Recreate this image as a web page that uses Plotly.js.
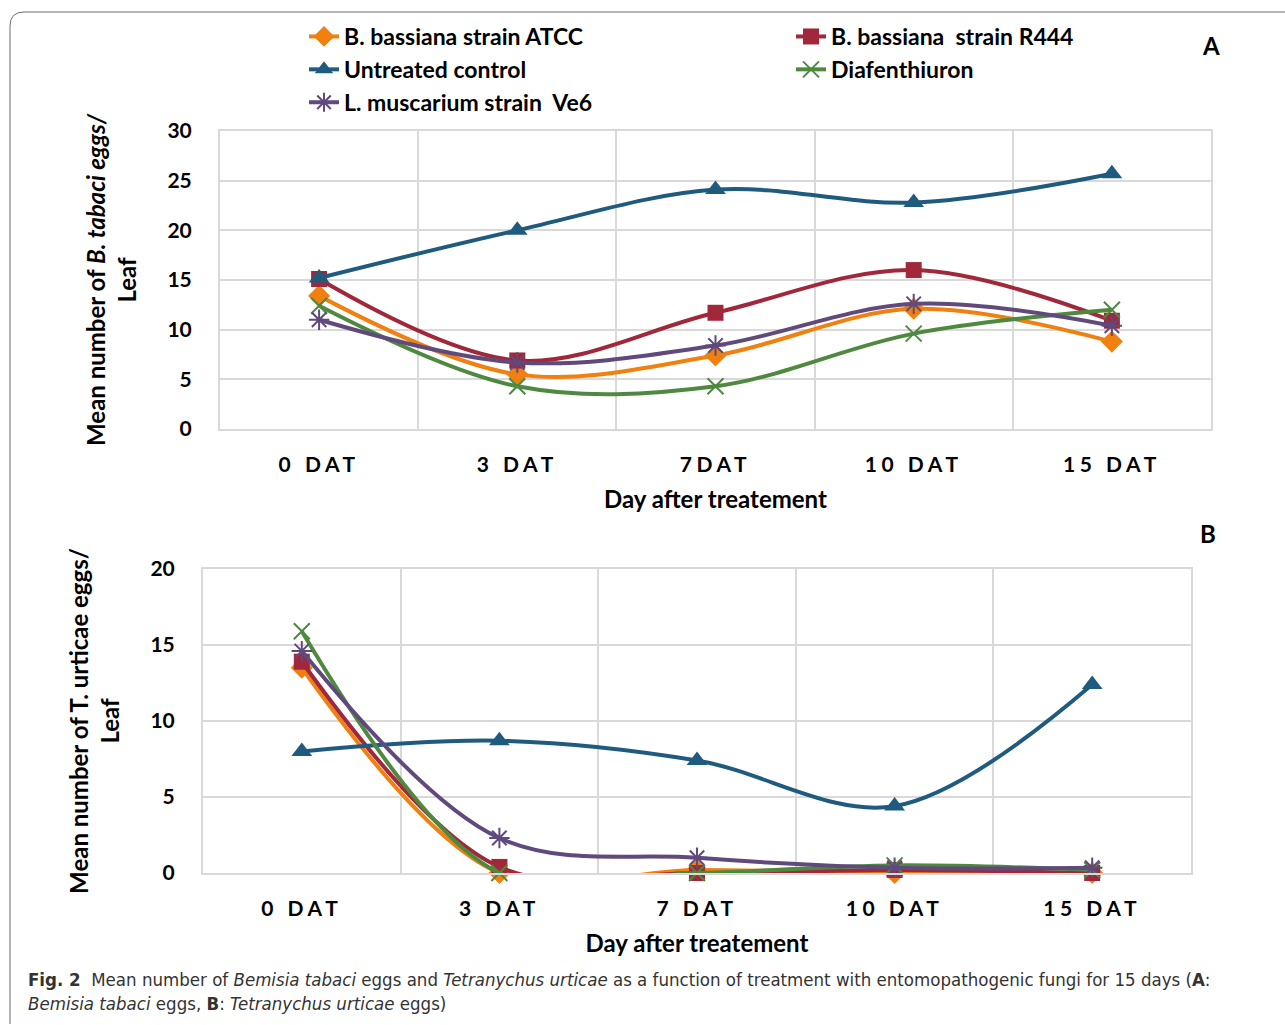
<!DOCTYPE html>
<html>
<head>
<meta charset="utf-8">
<script src="https://cdn.plot.ly/plotly-3.0.1.min.js"></script>
<style>
html,body{margin:0;padding:0;background:#fff;overflow:hidden;width:1285px;height:1025px;}
#chart{width:1285px;height:1025px;overflow:hidden;}
.xtick text, .x2tick text {letter-spacing:4.5px;}
</style>
</head>
<body>
<div id="chart"></div>
<script>
// ---- data ----
const categoriesA = ['0 DAT', '3 DAT', '7DAT', '10 DAT', '15 DAT'];
const categoriesB = ['0 DAT', '3 DAT', '7 DAT', '10 DAT', '15 DAT'];
const seriesNames = ['B. bassiana strain ATCC', 'B. bassiana  strain R444', 'Untreated control', 'Diafenthiuron', 'L. muscarium strain  Ve6'];

// Panel A: Bemisia tabaci eggs per leaf
const atccA = [13.4, 5.5, 7.4, 12.1, 8.8];
const r444A = [15.1, 6.9, 11.7, 16.0, 10.9];
const controlA = [15.2, 20.0, 24.1, 22.8, 25.7];
const diafA = [12.4, 4.3, 4.3, 9.6, 12.0];
const ve6A = [11.0, 6.7, 8.4, 12.6, 10.4];

// Panel B: Tetranychus urticae eggs per leaf
const atccB = [13.5, 0.0, 0.2, 0.0, 0.0];
const r444B = [13.9, 0.4, 0.0, 0.2, 0.0];
const controlB = [8.0, 8.7, 7.4, 4.4, 12.4];
const diafB = [15.9, 0.0, 0.0, 0.5, 0.2];
const ve6B = [14.6, 2.3, 1.0, 0.35, 0.35];

const yTicksA = [0, 5, 10, 15, 20, 25, 30];
const yTicksB = [0, 5, 10, 15, 20];

// ---- styles ----
const colors = ['#F0800F', '#A0283A', '#1F5B7F', '#4F8940', '#604A7C'];
const symbols = ['diamond', 'square', 'triangle-up', 'x-thin-open', 'asterisk-open'];
const msizes = [17, 16, 18, 16, 17];
const FONT = 'Lato, "Open Sans", sans-serif';

const W = 1285, H = 1025;
const px = v => v / W;
const py = v => 1 - v / H;

const dataA = [atccA, r444A, controlA, diafA, ve6A];
const dataB = [atccB, r444B, controlB, diafB, ve6B];

function makeTrace(i, xs, ys, xa, ya, showLegend) {
  const open = symbols[i].indexOf('open') >= 0;
  return {
    type: 'scatter', mode: 'lines+markers',
    name: seriesNames[i], legendgroup: 'g' + i, showlegend: showLegend,
    x: xs, y: ys, xaxis: xa, yaxis: ya,
    line: {color: colors[i], width: 4, shape: 'spline', smoothing: 1},
    marker: {symbol: symbols[i], size: msizes[i], color: colors[i],
             line: {color: colors[i], width: open ? 2 : 0}},
    cliponaxis: false
  };
}

const traces = [];
for (let i = 0; i < 5; i++) traces.push(makeTrace(i, categoriesA, dataA[i], 'x', 'y', true));
for (let i = 0; i < 5; i++) traces.push(makeTrace(i, categoriesB, dataB[i], 'x2', 'y2', false));

const gridC = '#d9d9d9';
const tickFont = {family: FONT, size: 21, color: '#000', weight: 700};
const titleFont = {family: FONT, size: 24, color: '#000', weight: 700};

function xAxis(domain, anchor) {
  return {
    domain: domain, anchor: anchor, type: 'category',
    range: [-0.5, 4.5], tickson: 'boundaries', ticks: '',
    showgrid: true, gridcolor: gridC, gridwidth: 2,
    showline: true, linecolor: gridC, linewidth: 2, mirror: true,
    tickfont: tickFont, ticklabelstandoff: 16, zeroline: false,
    title: {text: 'Day after treatement', font: titleFont, standoff: 16},
    automargin: false, fixedrange: true
  };
}
function yAxis(domain, anchor, range, ticks, title) {
  return {
    domain: domain, anchor: anchor, range: range,
    tickvals: ticks, ticktext: ticks.map(String), ticks: '',
    showgrid: true, gridcolor: gridC, gridwidth: 2,
    showline: true, linecolor: gridC, linewidth: 2, mirror: true,
    zeroline: false, tickfont: tickFont, ticklabelstandoff: 22,
    title: {text: title, font: titleFont, standoff: 24},
    automargin: false, fixedrange: true
  };
}

const layout = {
  width: W, height: H,
  margin: {l: 0, r: 0, t: 0, b: 0},
  paper_bgcolor: '#fff', plot_bgcolor: '#fff',
  font: {family: FONT, color: '#000'},
  showlegend: true,
  legend: {
    orientation: 'h', x: px(304), xanchor: 'left', y: py(15), yanchor: 'top',
    entrywidth: 442, entrywidthmode: 'pixels', traceorder: 'normal',
    font: {family: FONT, size: 23, color: '#000', weight: 700},
    bgcolor: 'rgba(0,0,0,0)', itemwidth: 30
  },
  xaxis: xAxis([px(220), px(1211)], 'y'),
  yaxis: yAxis([py(429), py(131)], 'x', [0, 30], yTicksA,
               'Mean number of <i>B. tabaci eggs/</i><br>Leaf'),
  xaxis2: xAxis([px(203), px(1191)], 'y2'),
  yaxis2: yAxis([py(873), py(569)], 'x2', [0, 20], yTicksB,
                'Mean number of T. urticae eggs/<br>Leaf'),
  shapes: [{
    type: 'path', xref: 'paper', yref: 'paper',
    path: `M ${px(10)},${py(1024)} L ${px(10)},${py(26)} Q ${px(10)},${py(12)} ${px(24)},${py(12)} L ${px(1285)},${py(12)}`,
    line: {color: '#6b6b6b', width: 1}
  }],
  annotations: [
    {text: '<b>A</b>', xref: 'paper', yref: 'paper', x: px(1211), y: py(45),
     xanchor: 'center', yanchor: 'middle', showarrow: false,
     font: {family: FONT, size: 24, color: '#000'}},
    {text: '<b>B</b>', xref: 'paper', yref: 'paper', x: px(1208), y: py(533),
     xanchor: 'center', yanchor: 'middle', showarrow: false,
     font: {family: FONT, size: 24, color: '#000'}},
    {text: '<b>Fig. 2</b>  Mean number of <i>Bemisia tabaci</i> eggs and <i>Tetranychus urticae</i> as a function of treatment with entomopathogenic fungi for 15 days (<b>A</b>:<br><i>Bemisia tabaci</i> eggs, <b>B</b>: <i>Tetranychus urticae</i> eggs)',
     xref: 'paper', yref: 'paper', x: px(26), y: py(967), xanchor: 'left', yanchor: 'top', align: 'left',
     showarrow: false, font: {family: '"Liberation Sans Narrow", "DejaVu Sans Condensed", sans-serif', size: 18.5, color: '#333'}}
  ]
};

Plotly.newPlot('chart', traces, layout, {staticPlot: true, displayModeBar: false});
</script>
</body>
</html>
